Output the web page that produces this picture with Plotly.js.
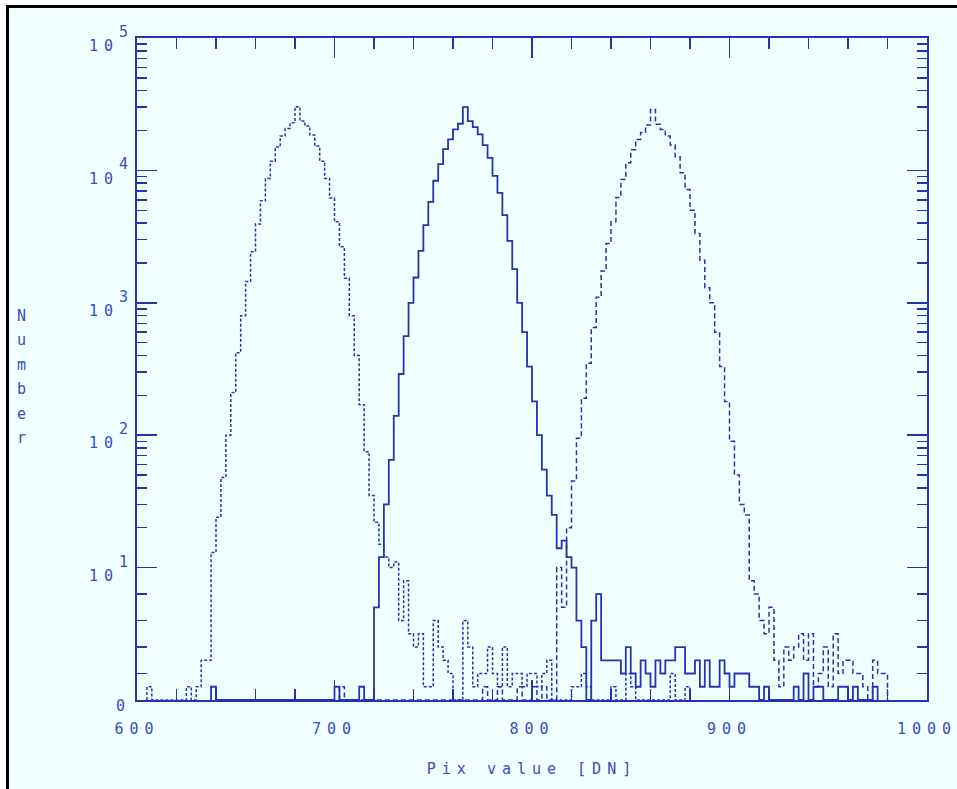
<!DOCTYPE html>
<html><head><meta charset="utf-8">
<script src="https://cdn.plot.ly/plotly-3.0.1.min.js"></script>
<style>
html,body{margin:0;padding:0;background:#fff;}
#wrap{position:relative;width:957px;height:789px;overflow:hidden;}
#plot{position:absolute;left:0;top:0;width:957px;height:789px;}
.mask{position:absolute;pointer-events:none;}
</style></head><body>
<div id="wrap"><div id="plot"></div>
<div class="mask" style="left:0;top:0;width:957px;height:5px;background:#fff"></div>
<div class="mask" style="left:0;top:0;width:6px;height:789px;background:#fff"></div>
<div class="mask" style="left:6px;top:5px;width:951px;height:3px;background:#000"></div>
<div class="mask" style="left:6px;top:5px;width:3px;height:784px;background:#000"></div>
</div>
<script>
const BIN = 2.5;

const dottedStart = 605;
const dottedCounts = [
 1,0,0,0,0,0,0,0,1,0,            // 605 - 627.5
 1,3,3,13,24,48,100,210,420,800, // 630 - 652.5
 1450,2430,3930,5890,8700,11750,15000,18150,20750,22900, // 655 - 677.5
 30250,23600,21600,18500,15270,11750,8700,6180,4090,2650, // 680 - 702.5
 1530,800,400,170,75,35,22,15,12,10, // 705 - 727.5
 11,6,9,5,4,5,1,1,6,4,           // 730 - 752.5
 3,2,0,0,6,4,1,2,2,4,            // 755 - 777.5
 2,1,4,1,2,2,1,2,2,1,            // 780 - 802.5
 2,3,0,0,0,0,1,1,2,1,            // 805 - 827.5
 0,0,0,0,1,0,0,2,1,0,            // 830 - 852.5
 0,0,0,0,0,0,2,0,0,1             // 855 - 877.5
];

const solidStart = 637.5;
const solidCounts = [
 1,0,0,0,0,0,0,0,0,0,            // 637.5 - 660
 0,0,0,0,0,0,0,0,0,0,            // 662.5 - 685
 0,0,0,0,0,1,0,0,0,0,            // 687.5 - 710
 1,0,0,7,12,30,65,140,290,560,   // 712.5 - 735
 1000,1553,2470,3860,5790,8350,11160,14490,17150,20400, // 737.5 - 760
 22500,30100,23600,21250,18700,15530,12450,9100,6770,4600, // 762.5 - 785
 2940,1795,1000,600,330,180,100,55,35,25, // 787.5 - 810
 14,16,12,10,6,4,0,6,8,3,        // 812.5 - 835
 3,3,3,2,4,2,1,3,2,1,            // 837.5 - 860
 3,2,3,3,4,4,2,2,3,1,            // 862.5 - 885
 3,1,1,3,2,1,2,2,2,1,            // 887.5 - 910
 1,0,1,0,0,0,0,0,1,0,            // 912.5 - 935
 2,0,1,1,0,0,0,1,1,0,            // 937.5 - 960
 1,0,0,0,1                       // 962.5 - 972.5
];

const dashedStart = 702.5;
const dashedCounts = [
 1,0,0,0,0,0,0,0,0,0,            // 702.5 - 725
 0,0,0,0,0,0,0,0,0,0,            // 727.5 - 750
 0,0,0,0,0,0,0,0,0,1,            // 752.5 - 775
 0,0,1,0,0,0,1,0,0,1,            // 777.5 - 800
 0,1,0,0,10,7,20,45,95,190,      // 802.5 - 825
 350,650,1100,1742,2800,4090,6250,8550,11400,14310, // 827.5 - 850
 17150,19370,21980,28900,22280,20400,18150,15530,12680,9590, // 852.5 - 875
 7180,5010,3340,2100,1300,1000,600,330,180,90, // 877.5 - 900
 50,30,25,9,8,6,5,7,3,1,         // 902.5 - 925
 4,3,4,5,3,5,1,2,4,1,            // 927.5 - 950
 5,2,3,3,2,2,1,0,3,2,            // 952.5 - 975
 2                               // 977.5
];

const yTickVals = [0,1,2,3,4,5];
const yTickText = ['','10','10','10','10','10'];
const yZeroLabel = '0';
const yExponents = ['1','2','3','4','5'];
const xTickVals = [600,700,800,900,1000];
const xTickText = ['600','700','800','900','1000'];

const LINE = '#2434b0';
const TEXT = '#3a4cc4';
const FONT = 'DejaVu Sans Mono, monospace';

function yScale(n){ return n <= 10 ? n/10 : Math.log10(n); }

function stepTrace(start, counts, dash, width){
  const x = [start], y = [0];
  counts.forEach((c,i) => { x.push(start + i*BIN); y.push(yScale(c)); });
  x.push(start + counts.length*BIN); y.push(0);
  return {type:'scatter', mode:'lines', x:x, y:y, hoverinfo:'skip',
          line:{shape:'hv', color:LINE, width:width, dash:dash}};
}

const yMinor = [0.2,0.4,0.6,0.8];
for (let d=1; d<5; d++) for (let k=2; k<10; k++) yMinor.push(d + Math.log10(k));
const xMinor = [];
for (let v=620; v<1000; v+=20) if (v % 100 !== 0) xMinor.push(v);

const data = [
  stepTrace(dottedStart, dottedCounts, '3px,2px', 1.5),
  stepTrace(solidStart, solidCounts, 'solid', 1.8),
  stepTrace(dashedStart, dashedCounts, '5px,3px', 1.5)
];

const axisCommon = {
  showgrid:false, zeroline:false, showline:true, linecolor:LINE, linewidth:2,
  mirror:'allticks', ticks:'inside', ticklen:20, tickwidth:1.5, tickcolor:LINE,
  ticklabeloverflow:'allow',
  tickfont:{family:FONT, size:15, color:TEXT}, fixedrange:true
};

const labelFont = {family:FONT, size:15, color:TEXT};
const annotations = yExponents.map(function(e,i){
  return {text:e, xref:'paper', yref:'y', x:-0.0165, y:yTickVals[i+1], yshift:6,
          xanchor:'center', yanchor:'middle', showarrow:false, font:labelFont};
});
annotations.push({text:yZeroLabel, xref:'paper', yref:'y', x:-0.0203, y:yTickVals[0], yshift:-6,
     xanchor:'center', yanchor:'middle', showarrow:false, font:labelFont});
annotations.push({text:'N<br>u<br>m<br>b<br>e<br>r', xref:'paper', yref:'paper', x:-0.146, y:0.597,
     xanchor:'center', yanchor:'top', showarrow:false, align:'center', font:labelFont});

const layout = {
  width:957, height:789,
  margin:{l:137, r:30, t:38, b:89},
  paper_bgcolor:'#f0ffff', plot_bgcolor:'#f0ffff',
  showlegend:false,
  xaxis:Object.assign({}, axisCommon, {
    range:[600,1000], tickmode:'array', tickvals:xTickVals, ticktext:xTickText,
    ticklabelstandoff:14,
    title:{text:'Pix value [DN]', standoff:26, font:labelFont},
    minor:{tickmode:'array', tickvals:xMinor, ticks:'inside', ticklen:11, tickwidth:1.5, tickcolor:LINE}
  }),
  yaxis:Object.assign({}, axisCommon, {
    range:[0,5], tickmode:'array', tickvals:yTickVals, ticktext:yTickText,
    ticklabelstandoff:13, ticklabelshift:8,
    minor:{tickmode:'array', tickvals:yMinor, ticks:'inside', ticklen:10, tickwidth:1.5, tickcolor:LINE}
  }),
  annotations:annotations
};

Plotly.newPlot('plot', data, layout, {staticPlot:true}).then(function(){
  document.querySelectorAll('.xtick text, .ytick text, .g-xtitle text').forEach(function(t){
    t.style.letterSpacing = '6px';
  });
  document.querySelectorAll('.annotation').forEach(function(g){
    const lines = g.querySelectorAll('tspan.line');
    if (lines.length > 1) lines.forEach(function(t,i){ t.setAttribute('dy', (i*1.63)+'em'); });
  });
});
</script>
</body></html>
